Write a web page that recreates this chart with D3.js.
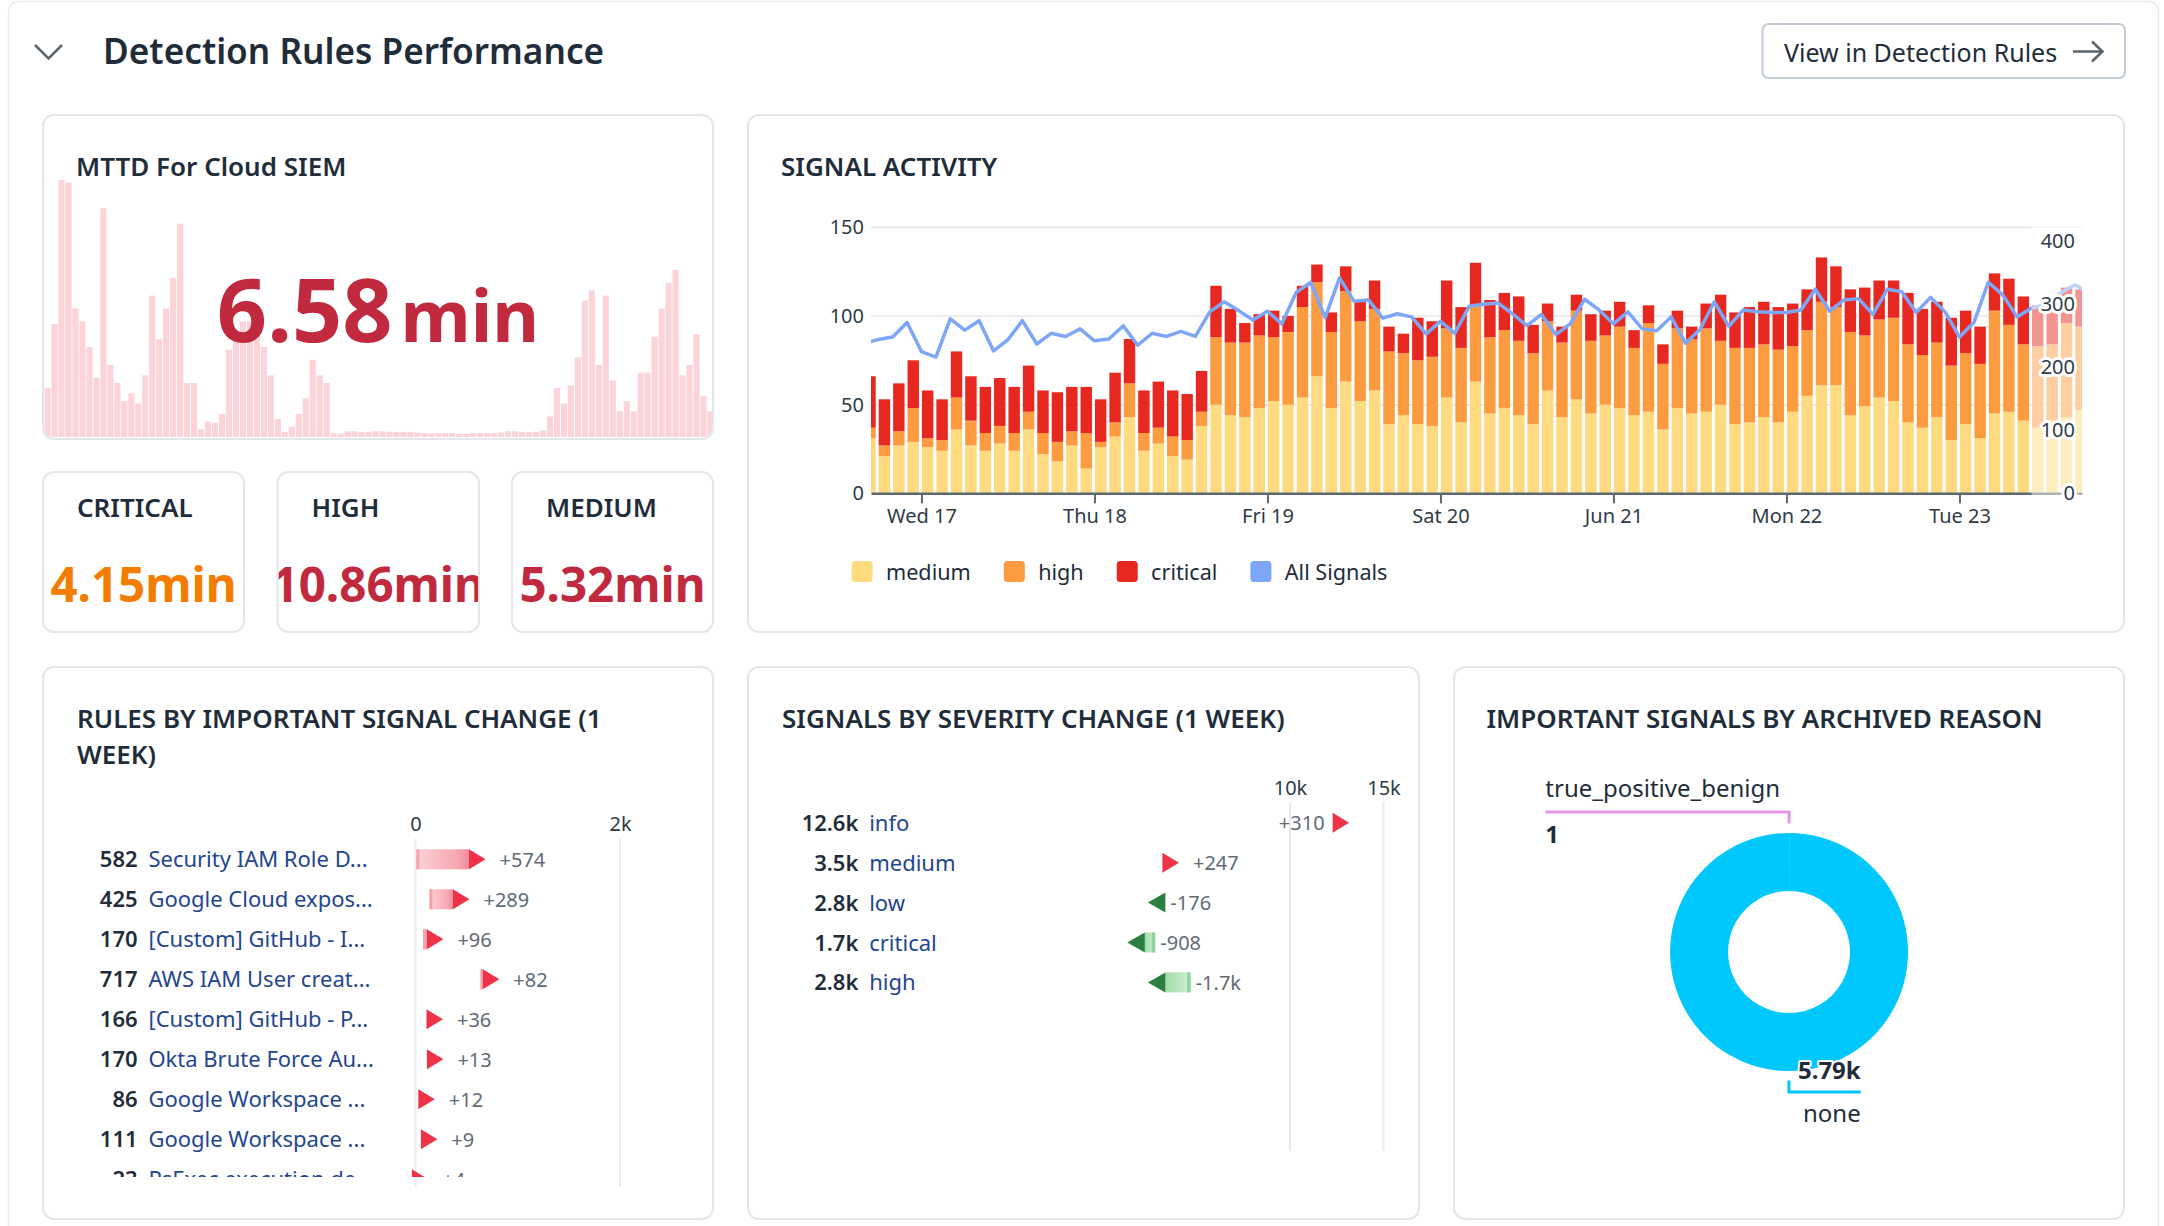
<!DOCTYPE html>
<html>
<head>
<meta charset="UTF-8">
<script src="https://cdn.jsdelivr.net/npm/d3@7"></script>
<style>
  body { margin: 0; background: #fff; }
  svg text { font-family: "Noto Sans", sans-serif; fill: #1f2d3a; }
  .ptitle { font-size: 26px; font-weight: 600; }
  .axis text { font-size: 20px; font-family: "Noto Sans", sans-serif; fill: #2f3b46; }
  .axis .domain { stroke: #5f6771; stroke-width: 2.5; }
  .axis .tick line { stroke: #5f6771; stroke-width: 2; }
  .rowval { font-size: 22px; font-weight: 600; }
  .rowname { font-size: 22px; fill: #1f4690 !important; }
  .chg { font-size: 20px; fill: #5f6b77 !important; }
  .panel { fill: none; stroke: #e3e6ea; stroke-width: 2; }
</style>
</head>
<body>
<script>

// MTTD background trend (relative, 0-100)
var mttdTrend = [19, 44, 100, 99, 50, 45, 35, 23, 89, 28,
  21, 14, 17, 13, 24, 55, 38, 50, 62, 83,
  21, 21, 3, 6, 5.5, 9, 34, 39, 45, 45,
  40, 35, 24, 7, 2, 4, 9, 15, 30, 24,
  21, 1.5, 1.3, 2.2,
  2.2, 2, 2, 2.2, 2.2, 2, 2, 2, 2, 1.7, 1.5, 1.3, 1.5, 1.5, 1.5, 1.3, 1.2, 1.5, 1.5, 1.5, 1.5, 1.8, 2.2, 2.2, 2, 2, 2, 2.5,
  8, 19, 13, 20, 31, 53, 57, 28, 55, 22, 10, 14, 10, 25, 25, 39, 50, 60, 65, 24, 28, 40, 16, 10];
var mttdValue = 6.58;
var mttdUnit = "min";

var cardLabels = ["CRITICAL", "HIGH", "MEDIUM"];
var cardValues = [4.15, 10.86, 5.32];

// signal activity, 2h buckets starting Tue 16 Jun 16:00
var bucketStart = new Date(2020, 5, 16, 16);
var viewStart = new Date(2020, 5, 16, 17);
var viewEnd = new Date(2020, 5, 23, 17);
var partialFrom = new Date(2020, 5, 23, 10);
var medium = [31, 21, 27, 29, 26, 24, 36, 27, 24, 28,
  24, 36, 22, 18, 27, 14, 26, 32, 43, 24,
  28, 21, 19, 38, 50, 44, 43, 48, 52, 50,
  54, 66, 48, 63, 52, 58, 39, 44, 39, 38,
  54, 40, 63, 45, 48, 44, 39, 58, 43, 53,
  45, 50, 48, 44, 46, 36, 48, 45, 46, 50,
  39, 40, 43, 40, 46, 55, 61, 61, 44, 49,
  54, 52, 40, 37, 43, 30, 39, 31, 45, 46,
  41, 37, 41, 43, 47];
var high = [6, 6, 8, 19, 5, 6, 18, 14, 10, 10,
  10, 10, 12, 11, 8, 20, 3, 8, 19, 10,
  9, 11, 11, 8, 38, 41, 42, 41, 36, 41,
  51, 53, 43, 51, 45, 46, 41, 35, 36, 39,
  39, 42, 43, 43, 44, 42, 40, 39, 42, 50,
  41, 39, 46, 38, 50, 37, 45, 42, 47, 36,
  43, 42, 41, 41, 37, 37, 47, 44, 47, 40,
  44, 47, 44, 41, 42, 42, 40, 42, 58, 49,
  43, 46, 43, 53, 47];
var critical = [29, 26, 27, 27, 27, 23, 26, 25, 26, 27,
  26, 26, 24, 28, 25, 26, 24, 28, 25, 24,
  26, 26, 26, 23, 29, 19, 11, 12, 15, 9,
  12, 10, 11, 14, 12, 16, 14, 11, 24, 20,
  27, 23, 24, 21, 21, 25, 16, 10, 9, 9,
  15, 14, 14, 10, 10, 11, 10, 7, 14, 26,
  20, 23, 24, 24, 24, 23, 25, 23, 24, 27,
  22, 21, 29, 26, 23, 27, 24, 21, 21, 26,
  27, 23, 21, 20, 21];
var allSignals = [238, 244, 248, 271, 225, 216, 277, 259, 274, 226,
  244, 274, 237, 254, 249, 261, 242, 245, 266, 235,
  254, 249, 257, 249, 288, 304, 290, 275, 289, 269,
  319, 335, 279, 342, 305, 307, 278, 285, 280, 253,
  273, 254, 297, 300, 302, 285, 266, 284, 252, 269,
  308, 291, 269, 288, 261, 258, 280, 238, 260, 304,
  265, 291, 288, 287, 287, 291, 324, 289, 307, 309,
  284, 324, 320, 287, 311, 288, 248, 271, 335, 315,
  280, 294, 300, 318, 331, 318];
var seriesKeys = ["medium", "high", "critical"];
var legendLabels = ["medium", "high", "critical", "All Signals"];

var ruleNames = ["Security IAM Role D...", "Google Cloud expos...", "[Custom] GitHub - I...",
  "AWS IAM User creat...", "[Custom] GitHub - P...", "Okta Brute Force Au...",
  "Google Workspace ...", "Google Workspace ...", "PsExec execution de..."];
var ruleValues = [582, 425, 170, 717, 166, 170, 86, 111, 23];
var ruleChanges = [574, 289, 96, 82, 36, 13, 12, 9, 4];

var severityNames = ["info", "medium", "low", "critical", "high"];
var severityValues = [12600, 3500, 2800, 1700, 2800];
var severityChanges = [310, 247, -176, -908, -1700];

var archivedReasons = ["true_positive_benign", "none"];
var archivedCounts = [1, 5790];

// ---------------------------------------------------------------
var svg = d3.select("body").append("svg").attr("width", 2164).attr("height", 1226);
var defs = svg.append("defs");

function clip(id, x, y, w, h, rx) {
  defs.append("clipPath").attr("id", id).append("rect")
    .attr("x", x).attr("y", y).attr("width", w).attr("height", h).attr("rx", rx || 0);
  return "url(#" + id + ")";
}
function grad(id, stops) {
  var g = defs.append("linearGradient").attr("id", id).attr("x1", 0).attr("x2", 1).attr("y1", 0).attr("y2", 0);
  stops.forEach(function(s) { g.append("stop").attr("offset", s[0]).attr("stop-color", s[1]); });
}
grad("gUp", [[0, "#fdd2d7"], [0.8, "#f7a6b0"], [1, "#f2899a"]]);
grad("gDown", [[0, "#9fdcaa"], [1, "#d2f1d7"]]);

var panels = [
  [43, 115, 670, 324], [43, 472, 201, 160], [277.5, 472, 201.5, 160], [512, 472, 201, 160],
  [748, 115, 1376, 517], [43, 667, 670, 552], [748, 667, 671, 552], [1454, 667, 670, 552]
];

// page frame + header
svg.append("rect").attr("x", 8.5).attr("y", 1.5).attr("width", 2150).attr("height", 1300).attr("rx", 10)
  .attr("fill", "none").attr("stroke", "#e8eaee").attr("stroke-width", 1.5);
svg.append("path").attr("d", "M35,45 L48.5,58.5 L62,45").attr("fill", "none")
  .attr("stroke", "#5b6670").attr("stroke-width", 2.5);
svg.append("text").attr("x", 103).attr("y", 64).style("font-size", "35.2px").style("font-weight", 600)
  .text("Detection Rules Performance");
svg.append("rect").attr("x", 1762.5).attr("y", 24).attr("width", 362.5).attr("height", 54).attr("rx", 6)
  .attr("fill", "#fff").attr("stroke", "#c3cad8").attr("stroke-width", 2);
svg.append("text").attr("x", 1784).attr("y", 61.5).style("font-size", "25px").text("View in Detection Rules");
svg.append("path").attr("d", "M2073,51.5 H2102 M2092,41.5 L2102.5,51.5 L2092,61.5").attr("fill", "none")
  .attr("stroke", "#5b6670").attr("stroke-width", 2.5);

// ---- MTTD panel ----
svg.append("text").attr("class", "ptitle").attr("x", 76).attr("y", 176).text("MTTD For Cloud SIEM");
var mx = d3.scaleBand().domain(d3.range(mttdTrend.length)).range([44.5, 713.5]).paddingInner(0.12);
var my = d3.scaleLinear().domain([0, 100]).range([437, 180]);
svg.append("g").attr("clip-path", clip("c-mttd", 44, 116, 668, 322, 10))
  .selectAll("rect").data(mttdTrend).join("rect")
    .attr("x", function(d, i) { return mx(i); })
    .attr("width", mx.bandwidth())
    .attr("y", function(d) { return my(d); })
    .attr("height", function(d) { return my(0) - my(d); })
    .attr("fill", "#fbd3d9");
var big = svg.append("text").attr("x", 378).attr("y", 342).attr("text-anchor", "middle")
  .style("font-weight", 700);
big.append("tspan").style("font-size", "88px").style("fill", "#c12a3e").text(d3.format(".2f")(mttdValue));
big.append("tspan").attr("dx", 8).style("font-size", "72px").style("fill", "#c12a3e").text(mttdUnit);

// severity cards
var cardColors = ["#f47c00", "#c12a3e", "#c12a3e"];
cardLabels.forEach(function(label, i) {
  var p = panels[i + 1];
  svg.append("text").attr("class", "ptitle").attr("x", p[0] + 34).attr("y", 517).text(label);
  svg.append("g").attr("clip-path", clip("c-card" + i, p[0] + 1, p[1] + 1, p[2] - 2, p[3] - 2, 10))
    .append("text").attr("x", p[0] + p[2] / 2).attr("y", 601.5).attr("text-anchor", "middle")
    .style("font-size", "47.5px").style("font-weight", 700).style("fill", cardColors[i])
    .text(d3.format(".2f")(cardValues[i]) + "min");
});

// ---- SIGNAL ACTIVITY ----
svg.append("text").attr("class", "ptitle").attr("x", 781).attr("y", 176).text("SIGNAL ACTIVITY");
var colors = {medium: "#fedb80", high: "#fd9b41", critical: "#e72820", all: "#7ea6f7"};
var x = d3.scaleTime().domain([viewStart, viewEnd]).range([871, 2082]);
var yL = d3.scaleLinear().domain([0, 150]).range([493.3, 227.3]);
var yR = d3.scaleLinear().domain([0, 400]).range([493.3, 241.3]);

var buckets = medium.map(function(m, i) {
  return {t: d3.timeHour.offset(bucketStart, 2 * i), medium: m, high: high[i], critical: critical[i]};
});
var layers = d3.stack().keys(seriesKeys)(buckets);

svg.append("g").selectAll("line").data([50, 100, 150]).join("line")
  .attr("x1", 871).attr("x2", 2082)
  .attr("y1", function(d) { return yL(d); }).attr("y2", function(d) { return yL(d); })
  .attr("stroke", "#e4e7eb").attr("stroke-width", 1.5);

var plot = svg.append("g").attr("clip-path", clip("c-plot", 871, 140, 1211, 353.3));
plot.selectAll("g").data(layers).join("g")
    .attr("fill", function(d) { return colors[d.key]; })
  .selectAll("rect").data(function(d) { return d; }).join("rect")
    .attr("x", function(d) { return x(d.data.t) + 0.5; })
    .attr("width", function(d) { return x(d3.timeHour.offset(d.data.t, 2)) - x(d.data.t) - 3; })
    .attr("y", function(d) { return yL(d[1]); })
    .attr("height", function(d) { return yL(d[0]) - yL(d[1]); });

var lineData = allSignals.map(function(v, i) { return {t: d3.timeHour.offset(bucketStart, 2 * i), v: v}; });
svg.append("g").attr("clip-path", clip("c-line", 871, 140, 1211, 360))
  .append("path").datum(lineData)
    .attr("d", d3.line().x(function(d) { return x(d.t); }).y(function(d) { return yR(d.v); }))
    .attr("fill", "none").attr("stroke", colors.all).attr("stroke-width", 3.5).attr("stroke-linejoin", "round");

svg.append("g").attr("class", "axis").attr("transform", "translate(0,493.3)")
  .call(d3.axisBottom(x).ticks(d3.timeDay.every(1)).tickSize(10).tickSizeOuter(0).tickPadding(6));
svg.append("g").attr("class", "axis").attr("transform", "translate(871,0)")
  .call(d3.axisLeft(yL).tickValues([0, 50, 100, 150]).tickSize(0).tickPadding(7))
  .call(function(g) { g.select(".domain").remove(); });

// incomplete buckets are washed out
svg.append("rect").attr("x", x(partialFrom)).attr("y", 140)
  .attr("width", 2083 - x(partialFrom)).attr("height", 356)
  .attr("fill", "#fff").attr("opacity", 0.5);

svg.append("g").attr("class", "axis").attr("transform", "translate(2082,0)")
  .call(d3.axisLeft(yR).tickValues([0, 100, 200, 300, 400]).tickSize(0).tickPadding(7))
  .call(function(g) { g.select(".domain").remove(); })
  .selectAll("text").attr("stroke", "#fff").attr("stroke-width", 6)
    .attr("stroke-linejoin", "round").attr("paint-order", "stroke");

var legendColors = [colors.medium, colors.high, colors.critical, colors.all];
var lx = 851.6;
legendLabels.forEach(function(l, i) {
  svg.append("rect").attr("x", lx).attr("y", 561).attr("width", 21).attr("height", 21).attr("rx", 3.5)
    .attr("fill", legendColors[i]);
  var t = svg.append("text").attr("x", lx + 34.4).attr("y", 580).style("font-size", "21.6px").text(l);
  lx += 34.4 + t.node().getComputedTextLength() + 33;
});

// ---- change rows (shared by rules + severity) ----
var fmtS = d3.format(".3~s");
function fmtChange(v) { return (v >= 0 ? "+" : "-") + fmtS(Math.abs(v)); }

function changeRows(g, rows, sx, top, step, nameX) {
  var limit = sx.range()[1];
  var row = g.selectAll("g.row").data(rows).join("g").attr("class", "row")
    .attr("transform", function(d, i) { return "translate(0," + (top + i * step) + ")"; });
  row.append("text").attr("class", "rowval").attr("x", nameX - 10.8).attr("y", 8)
    .attr("text-anchor", "end").text(function(d) { return d.label; });
  row.append("text").attr("class", "rowname").attr("x", nameX).attr("y", 8)
    .text(function(d) { return d.name; });
  row.each(function(d) {
    var r = d3.select(this);
    var xc = sx(d.value), xp = sx(d.value - d.change);
    var lab = r.append("text").attr("class", "chg").attr("y", 7.5).text(fmtChange(d.change));
    if (d.change >= 0) {
      var base = xc - 6, tip = xc + 10.5;
      if (base - xp > 0.5) {
        r.append("rect").attr("x", xp).attr("y", -10).attr("width", base - xp).attr("height", 20).attr("fill", "url(#gUp)");
        r.append("rect").attr("x", xp).attr("y", -10).attr("width", Math.min(3, base - xp)).attr("height", 20).attr("fill", "#f6a3ad");
      }
      r.append("path").attr("d", "M" + base + ",-10L" + tip + ",0L" + base + ",10Z").attr("fill", "#ee3349");
      var w = lab.node().getComputedTextLength();
      if (tip + 14 + w > limit) lab.attr("x", Math.min(xp, base) - 8).attr("text-anchor", "end");
      else lab.attr("x", tip + 14);
    } else {
      var tipN = xc - 7.5, baseN = xc + 10, far = xp + 3.5;
      if (far - baseN > 0.5) {
        r.append("rect").attr("x", baseN).attr("y", -10).attr("width", far - baseN).attr("height", 20).attr("fill", "url(#gDown)");
        r.append("rect").attr("x", far - Math.min(3.5, far - baseN)).attr("y", -10).attr("width", Math.min(3.5, far - baseN)).attr("height", 20).attr("fill", "#8fd49b");
      }
      r.append("path").attr("d", "M" + baseN + ",-10L" + tipN + ",0L" + baseN + ",10Z").attr("fill", "#2a7e3f");
      lab.attr("x", Math.max(baseN, far) + 5);
    }
  });
}

// ---- RULES panel ----
var rt = svg.append("text").attr("class", "ptitle").attr("x", 77);
rt.append("tspan").attr("x", 77).attr("y", 728).text("RULES BY IMPORTANT SIGNAL CHANGE (1");
rt.append("tspan").attr("x", 77).attr("y", 764).text("WEEK)");
var xr = d3.scaleLinear().domain([0, 2000]).range([415.5, 620]);
svg.append("g").attr("class", "axis").attr("transform", "translate(0,839)")
  .call(d3.axisTop(xr).tickValues([0, 2000]).tickFormat(d3.format("~s")).tickSize(0).tickPadding(8))
  .call(function(g) { g.select(".domain").remove(); });
svg.append("g").selectAll("line").data([0, 2000]).join("line")
  .attr("x1", function(d) { return xr(d); }).attr("x2", function(d) { return xr(d); })
  .attr("y1", 839).attr("y2", 1187).attr("stroke", "#e8eaed").attr("stroke-width", 2);
var ruleRows = ruleNames.map(function(n, i) {
  return {name: n, value: ruleValues[i], change: ruleChanges[i], label: d3.format("d")(ruleValues[i])};
});
changeRows(svg.append("g").attr("clip-path", clip("c-rules", 43, 840, 670, 337)), ruleRows, xr, 859.3, 40, 148.4);

// ---- SEVERITY panel ----
svg.append("text").attr("class", "ptitle").attr("x", 782).attr("y", 728).text("SIGNALS BY SEVERITY CHANGE (1 WEEK)");
var xs = d3.scaleLinear().domain([10000, 15000]).range([1290, 1383.5]);
svg.append("g").attr("class", "axis").attr("transform", "translate(0,802.6)")
  .call(d3.axisTop(xs).tickValues([10000, 15000]).tickFormat(d3.format("~s")).tickSize(0).tickPadding(8))
  .call(function(g) { g.select(".domain").remove(); });
svg.append("g").selectAll("line").data([10000, 15000]).join("line")
  .attr("x1", function(d) { return xs(d); }).attr("x2", function(d) { return xs(d); })
  .attr("y1", 802.6).attr("y2", 1151).attr("stroke", "#e8eaed").attr("stroke-width", 2);
var sevRows = severityNames.map(function(n, i) {
  return {name: n, value: severityValues[i], change: severityChanges[i], label: fmtS(severityValues[i])};
});
changeRows(svg.append("g"), sevRows, xs, 822.8, 39.9, 869.2);

// ---- ARCHIVED REASON donut ----
svg.append("text").attr("class", "ptitle").attr("x", 1486.5).attr("y", 728).text("IMPORTANT SIGNALS BY ARCHIVED REASON");
var donutColors = ["#e597e6", "#00c8fd"];
var cx = 1789, cy = 952, rOut = 119, rIn = 61;
var arcs = d3.pie().sort(null)(archivedCounts);
var gd = svg.append("g").attr("transform", "translate(" + cx + "," + cy + ")");
gd.selectAll("path").data(arcs).join("path")
  .attr("d", d3.arc().innerRadius(rIn).outerRadius(rOut))
  .attr("fill", function(d, i) { return donutColors[i]; });

arcs.forEach(function(a, i) {
  var mid = (a.startAngle + a.endAngle) / 2;
  var up = Math.cos(mid) > 0 ? -1 : 1;          // label above or below
  var side = (mid < Math.PI / 2 || mid > 3 * Math.PI / 2) ? -1 : 1;
  var sx = Math.sin(mid) * (rOut + 9.5), sy = -Math.cos(mid) * (rOut + 9.5);
  var ly = sy + up * 11.5;
  var lg = gd.append("g");
  var name = lg.append("text").style("font-size", "24px").text(archivedReasons[i]);
  var val = lg.append("text").style("font-size", "24px").style("font-weight", 700)
    .attr("stroke", "#fff").attr("stroke-width", 4).attr("paint-order", "stroke").attr("stroke-linejoin", "round")
    .text(fmtS(archivedCounts[i]));
  var len = Math.max(name.node().getComputedTextLength(), val.node().getComputedTextLength()) + 9;
  var ex = sx + side * len;
  lg.insert("path", "text").attr("d", "M" + sx + "," + sy + "V" + ly + "H" + ex)
    .attr("fill", "none").attr("stroke", donutColors[i]).attr("stroke-width", 3);
  var anchor = side < 0 ? "start" : "end";
  // value sits on the donut side of the leader line
  var inner = up < 0 ? ly + 30.7 : ly - 13.4;
  var outer = up < 0 ? ly - 14.6 : ly + 30;
  name.attr("x", ex).attr("y", outer).attr("text-anchor", anchor);
  val.attr("x", ex).attr("y", inner).attr("text-anchor", anchor);
});

// panel borders on top
svg.append("g").selectAll("rect").data(panels).join("rect").attr("class", "panel")
  .attr("x", function(d) { return d[0]; }).attr("y", function(d) { return d[1]; })
  .attr("width", function(d) { return d[2]; }).attr("height", function(d) { return d[3]; })
  .attr("rx", 11);

</script>
</body>
</html>
